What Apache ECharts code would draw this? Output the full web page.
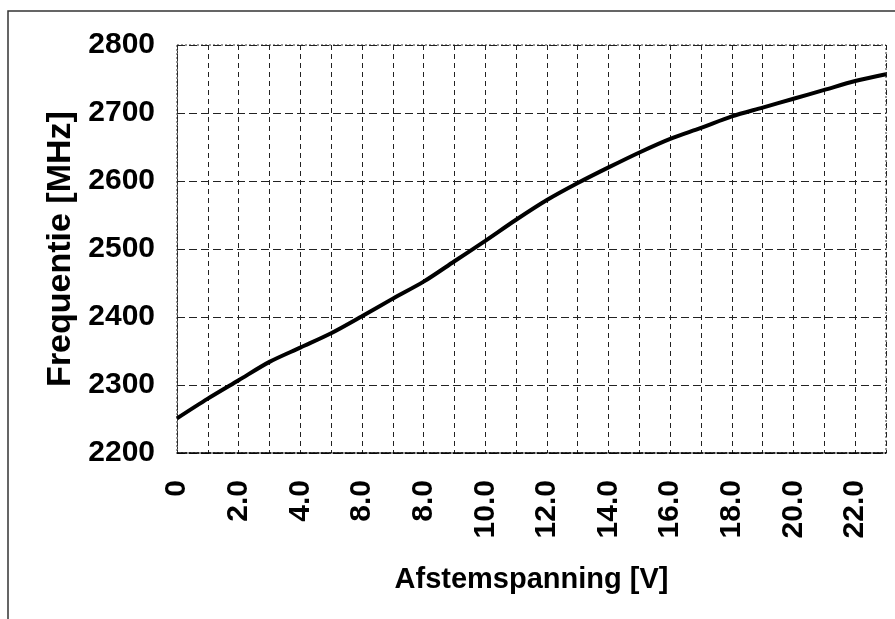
<!DOCTYPE html>
<html>
<head>
<meta charset="utf-8">
<script src="https://cdn.jsdelivr.net/npm/echarts@6/dist/echarts.min.js"></script>
<style>
html,body{margin:0;padding:0;background:#fff;}
#c{width:895px;height:619px;}
</style>
</head>
<body>
<div id="c"></div>
<script>
// Data
var voltages = [0,1,2,3,4,5,6,7,8,9,10,11,12,13,14,15,16,17,18,19,20,21,22,23];
var frequencies = [2251,2280,2307,2334,2355,2376,2401,2427,2452,2482,2512,2543,2572,2597,2620,2642,2662,2678,2695,2708,2721,2734,2747,2757];
var xTickLabels = ['0','2.0','4.0','8.0','8.0','10.0','12.0','14.0','16.0','18.0','20.0','22.0'];
var yTicks = [2200,2300,2400,2500,2600,2700,2800];

var FONT = '"Liberation Sans", Arial, sans-serif';
var chart = echarts.init(document.getElementById('c'), null, {renderer:'canvas'});
var pts = voltages.map(function(v,i){return [v, frequencies[i]];});

chart.setOption({
  animation:false,
  backgroundColor:'#fff',
  graphic:[{
    type:'rect', silent:true, z:-1,
    shape:{x:8,y:11,width:920,height:640},
    style:{fill:'none',stroke:'#333',lineWidth:1.5}
  }],
  grid:{left:177,right:9,top:45,bottom:166,show:true,borderColor:'#333',borderWidth:1,borderType:[2,2]},
  xAxis:{
    type:'value', min:0, max:23, interval:1,
    name:'Afstemspanning [V]', nameLocation:'middle', nameGap:112,
    nameTextStyle:{fontFamily:FONT,fontWeight:'bold',fontSize:29,color:'#000'},
    axisLine:{show:true,lineStyle:{color:'#000',width:1.5,type:[10,2]}},
    axisTick:{show:false},
    axisLabel:{
      rotate:90, margin:27, fontFamily:FONT, fontWeight:'bold', fontSize:30, color:'#000',
      formatter:function(v){
        if (Math.abs(v-Math.round(v))>1e-6) return '';
        var r=Math.round(v);
        if (r%2!==0) return '';
        var s = xTickLabels[r/2];
        return s===undefined?'':s;
      }
    },
    splitLine:{show:true,lineStyle:{color:'#222',width:1,type:[5,4]}}
  },
  yAxis:{
    type:'value', min:yTicks[0], max:yTicks[yTicks.length-1], interval:100,
    name:'Frequentie [MHz]', nameLocation:'middle', nameGap:92, nameRotate:90,
    nameTextStyle:{fontFamily:FONT,fontWeight:'bold',fontSize:34,color:'#000'},
    axisLine:{show:true,lineStyle:{color:'#333',width:1,type:[2,2]}},
    axisTick:{show:false},
    axisLabel:{margin:22,fontFamily:FONT,fontWeight:'bold',fontSize:30,color:'#000',
      formatter:function(v){return String(v);}},
    splitLine:{show:true,lineStyle:{color:'#222',width:1,type:[8,4]}}
  },
  series:[{
    type:'line', data:pts, showSymbol:false, smooth:0.3,
    lineStyle:{color:'#000',width:4}
  }]
});
</script>
</body>
</html>
